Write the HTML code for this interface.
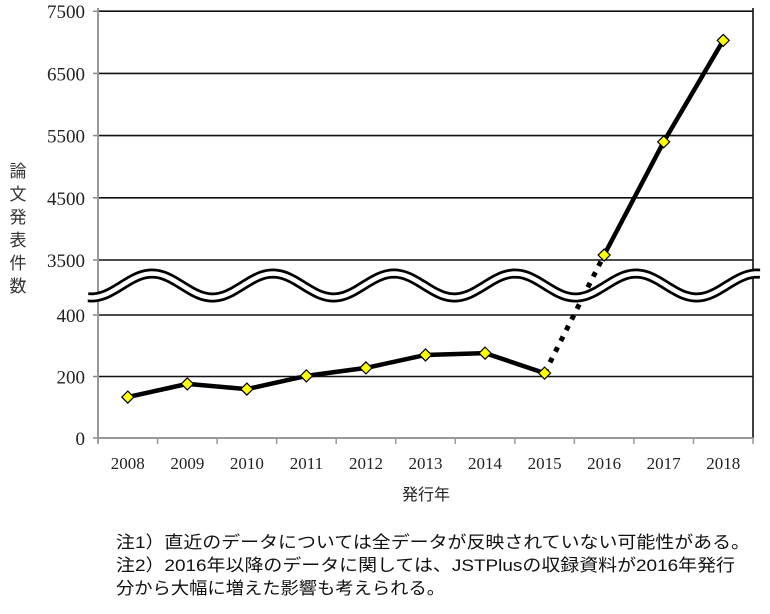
<!DOCTYPE html>
<html><head><meta charset="utf-8"><style>
body{margin:0;background:#fff;}
svg text{font-family:"Liberation Serif","Noto Serif CJK SC",serif;}
.jp{font-family:"Liberation Sans","Noto Sans CJK JP",sans-serif;}
</style></head><body>
<svg id="c" width="770" height="609" xmlns="http://www.w3.org/2000/svg">
<g id="grid"></g>
<g id="ylab"></g>
<g id="xlab"></g>
<g id="series"></g>
<g id="brk"></g>
<g id="marks"></g>
<text class="jp" font-size="17" fill="#333" text-anchor="middle">
<tspan x="18" y="177">論</tspan><tspan x="18" y="200">文</tspan><tspan x="18" y="223">発</tspan><tspan x="18" y="246">表</tspan><tspan x="18" y="269">件</tspan><tspan x="18" y="292">数</tspan></text>
<text class="jp" x="426" y="500" font-size="16" text-anchor="middle" fill="#222">発行年</text>
<g class="jp" font-size="17" fill="#111">
<text class="jp" x="116" y="548" textLength="634" lengthAdjust="spacingAndGlyphs">注1）直近のデータについては全データが反映されていない可能性がある。</text>
<text class="jp" x="116" y="571" textLength="619" lengthAdjust="spacingAndGlyphs">注2）2016年以降のデータに関しては、JSTPlusの収録資料が2016年発行</text>
<text class="jp" x="116" y="594" textLength="329" lengthAdjust="spacingAndGlyphs">分から大幅に増えた影響も考えられる。</text>
</g>
</svg>
<script>
const years=["2008","2009","2010","2011","2012","2013","2014","2015","2016","2017","2018"];
const values=[133,176,159,202,228,270,276,211,3580,5400,7030];
const lowTicks=[0,200,400];
const highTicks=[3500,4500,5500,6500,7500];
const NS="http://www.w3.org/2000/svg";
const L=98,R=753,cw=(R-L)/years.length;
function x(i){return L+cw*(i+0.5);}
function y(v){return v<1000?438-v*(123/400):260-(v-3500)*0.0622;}
function mk(t,a,p){const e=document.createElementNS(NS,t);for(const k in a)e.setAttribute(k,a[k]);(p||document.getElementById('c')).appendChild(e);return e;}
const g=document.getElementById('grid');
lowTicks.concat(highTicks).forEach(v=>{
 if(v>0){const l=mk('line',{x1:L,x2:R,y1:y(v),y2:y(v),stroke:'#111','stroke-width':1.6},g);
 
 }
 const t=mk('text',{x:85,y:y(v)+7,'font-size':19,'text-anchor':'end',fill:'#222'},document.getElementById('ylab'));
 t.textContent=v;
 
 
 mk('line',{x1:L-5,x2:L,y1:y(v),y2:y(v),stroke:'#888','stroke-width':1.5},g);
});
mk('line',{x1:L,x2:L,y1:8,y2:443,stroke:'#999','stroke-width':2},g);
mk('line',{x1:R,x2:R,y1:8,y2:438,stroke:'#111','stroke-width':1.6},g);
mk('line',{x1:L,x2:R,y1:438,y2:438,stroke:'#999','stroke-width':2},g);
for(let i=0;i<=years.length;i++)mk('line',{x1:L+cw*i,x2:L+cw*i,y1:438,y2:444,stroke:'#999','stroke-width':1.5},g);
years.forEach((yr,i)=>{const t=mk('text',{x:x(i),y:469,'font-size':17,'text-anchor':'middle',fill:'#222'},document.getElementById('xlab'));
 t.textContent=yr;
 
 });
const s=document.getElementById('series');
function seg(i,j,dash){const l=mk('line',{x1:x(i),y1:y(values[i]),x2:x(j),y2:y(values[j]),stroke:'#000','stroke-width':dash?5:4.5,'stroke-dasharray':dash?'5,7':'none','stroke-linecap':'butt'},s);
 
 }
for(let i=0;i<values.length-1;i++)seg(i,i+1,i===7);
let d='';for(let px=88;px<=760;px+=3){const py=285.5-12*Math.cos(2*Math.PI*(px-152)/121);d+=(d?'L':'M')+px+','+py.toFixed(1);}
const b=document.getElementById('brk');
mk('path',{d:d,fill:'none',stroke:'#000','stroke-width':10},b);
mk('path',{d:d,fill:'none',stroke:'#fff','stroke-width':4.5},b);
const m=document.getElementById('marks');
values.forEach((v,i)=>{const cx=x(i),cy=y(v),r=6;
 const p=mk('polygon',{points:`${cx},${cy-r} ${cx+r},${cy} ${cx},${cy+r} ${cx-r},${cy}`,fill:'#ff0',stroke:'#000','stroke-width':1.2},m);
 
 });
</script>
</body></html>
